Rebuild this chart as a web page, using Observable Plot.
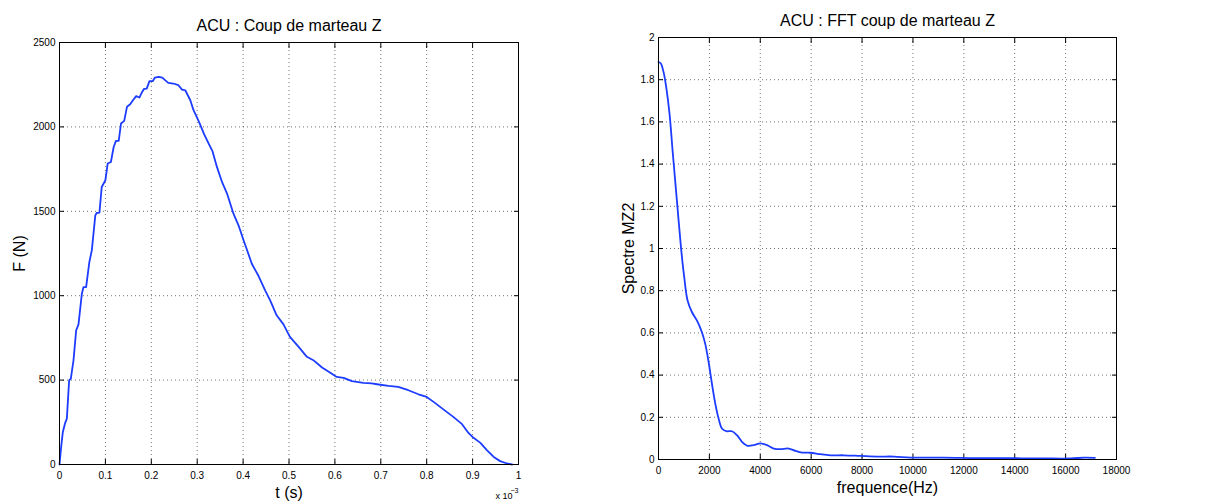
<!DOCTYPE html>
<html><head><meta charset="utf-8">
<script src="https://cdn.jsdelivr.net/npm/d3@7"></script>
<script src="https://cdn.jsdelivr.net/npm/@observablehq/plot@0.6"></script>
<style>
body{margin:0;background:#fff;}
#wrap{display:flex;width:1222px;height:501px;}
</style></head><body><div id="wrap"></div>
<script>
// Left chart: force vs time (time in units of 1e-3 s)
const forceTime = [0, 0.0036, 0.0073, 0.0124, 0.016, 0.021, 0.0247, 0.0305, 0.0363, 0.0414, 0.0487, 0.0523, 0.058, 0.065, 0.0705, 0.078, 0.081, 0.087, 0.092, 0.1, 0.105, 0.112, 0.118, 0.123, 0.129, 0.134, 0.141, 0.147, 0.154, 0.160, 0.167, 0.174, 0.179, 0.184, 0.190, 0.196, 0.203, 0.208, 0.216, 0.224, 0.230, 0.237, 0.248, 0.259, 0.267, 0.274, 0.285, 0.292, 0.299, 0.306, 0.315, 0.325, 0.333, 0.343, 0.354, 0.365, 0.379, 0.390, 0.401, 0.408, 0.419, 0.433, 0.448, 0.459, 0.473, 0.488, 0.502, 0.521, 0.539, 0.553, 0.572, 0.590, 0.604, 0.619, 0.637, 0.662, 0.680, 0.695, 0.717, 0.738, 0.760, 0.782, 0.800, 0.815, 0.837, 0.858, 0.877, 0.891, 0.902, 0.917, 0.931, 0.946, 0.960, 0.975, 0.986];
const forceValues = [0, 104, 193, 247, 272, 499, 509, 617, 795, 830, 1012, 1051, 1051, 1199, 1270, 1476, 1490, 1492, 1644, 1684, 1783, 1792, 1881, 1917, 1917, 2020, 2036, 2119, 2134, 2158, 2182, 2174, 2202, 2225, 2227, 2271, 2271, 2292, 2296, 2292, 2277, 2261, 2257, 2247, 2221, 2217, 2158, 2099, 2059, 2016, 1957, 1901, 1858, 1763, 1674, 1605, 1486, 1417, 1328, 1275, 1189, 1120, 1032, 972, 884, 830, 756, 697, 638, 618, 575, 543, 519, 513, 494, 484, 480, 474, 466, 460, 440, 416, 400, 371, 325, 282, 239, 187, 158, 128, 85, 45, 20, 6, 0];
const timeTicks = [0, 0.1, 0.2, 0.3, 0.4, 0.5, 0.6, 0.7, 0.8, 0.9, 1];
const forceTicks = [0, 500, 1000, 1500, 2000, 2500];

// Right chart: spectrum vs frequency
const freqHz = [0, 92, 197, 302, 433, 564, 722, 892, 1010, 1142, 1312, 1509, 1706, 1837, 1969, 2100, 2231, 2362, 2493, 2664, 2887, 3084, 3281, 3504, 3740, 4003, 4265, 4528, 4790, 5118, 5381, 5643, 5971, 6365, 6759, 7283, 7940, 8596, 9252, 9908, 11220, 12532, 13845, 15157, 16207, 16732, 17152];
const spectreValues = [1.884, 1.877, 1.837, 1.766, 1.639, 1.449, 1.228, 0.995, 0.865, 0.754, 0.699, 0.659, 0.603, 0.548, 0.462, 0.359, 0.265, 0.194, 0.147, 0.134, 0.134, 0.115, 0.084, 0.065, 0.068, 0.076, 0.068, 0.052, 0.049, 0.052, 0.041, 0.033, 0.032, 0.025, 0.020, 0.020, 0.017, 0.014, 0.014, 0.009, 0.009, 0.006, 0.006, 0.005, 0.005, 0.009, 0.008];
const freqTicks = [0, 2000, 4000, 6000, 8000, 10000, 12000, 14000, 16000, 18000];
const spectreTicks = [0, 0.2, 0.4, 0.6, 0.8, 1, 1.2, 1.4, 1.6, 1.8, 2];

const FONT = "'Liberation Sans', Arial, Helvetica, sans-serif";
const BLUE = "#1c3cff";

function panel(o) {
  const data = o.xs.map((x, i) => ({x, y: o.ys[i]}));
  const fmt = d => String(d);
  const grid = {stroke: "#000", strokeOpacity: 0.55, strokeDasharray: "1,3", strokeWidth: 1};
  const marks = [
    Plot.gridX(o.xTicks, grid),
    Plot.gridY(o.yTicks, grid),
    Plot.axisX(o.xTicks, {anchor: "bottom", tickSize: -5, tickPadding: 12, tickFormat: fmt, label: null, fontSize: 10}),
    Plot.axisX(o.xTicks, {anchor: "top", tickSize: -5, tickFormat: () => "", label: null}),
    Plot.axisY(o.yTicks, {anchor: "left", tickSize: -5, tickPadding: 9, tickFormat: fmt, label: null, fontSize: 10}),
    Plot.axisY(o.yTicks, {anchor: "right", tickSize: -5, tickFormat: () => "", label: null}),
    Plot.line(data, {x: "x", y: "y", stroke: BLUE, strokeWidth: 1.8, curve: o.curve}),
    Plot.frame({stroke: "#000", strokeWidth: 1}),
    Plot.text([o.title], {frameAnchor: "top", textAnchor: "middle", lineAnchor: "middle", dy: -17, fontSize: 16}),
    Plot.text([o.xLabel], {frameAnchor: "bottom", textAnchor: "middle", lineAnchor: "middle", dy: 28, fontSize: 16}),
    Plot.text([o.yLabel], {frameAnchor: "left", textAnchor: "middle", lineAnchor: "middle", rotate: -90, dx: o.yLabelDx, fontSize: 16})
  ];
  if (o.extra) marks.push(...o.extra);
  return Plot.plot({
    width: 611, height: 501,
    marginLeft: o.ml, marginRight: o.mr, marginTop: o.mt, marginBottom: o.mb,
    x: {domain: o.xDomain}, y: {domain: o.yDomain},
    style: {fontFamily: FONT, fontSize: "10px", background: "white", overflow: "visible", color: "#000"},
    marks
  });
}

const left = panel({
  xs: forceTime, ys: forceValues, xTicks: timeTicks, yTicks: forceTicks,
  xDomain: [0, 1], yDomain: [0, 2500],
  ml: 59, mr: 93, mt: 42, mb: 37,
  title: "ACU : Coup de marteau Z", xLabel: "t (s)", yLabel: "F (N)", yLabelDx: -40,
  curve: "linear",
  extra: [
    Plot.text(["x 10"], {frameAnchor: "bottom-right", textAnchor: "end", lineAnchor: "middle", dx: -6, dy: 32, fontSize: 9}),
    Plot.text(["\u22123"], {frameAnchor: "bottom-right", textAnchor: "end", lineAnchor: "middle", dx: 0, dy: 26, fontSize: 7})
  ]
});

const right = panel({
  xs: freqHz, ys: spectreValues, xTicks: freqTicks, yTicks: spectreTicks,
  xDomain: [0, 18000], yDomain: [0, 2],
  ml: 47, mr: 106, mt: 37, mb: 42,
  title: "ACU : FFT coup de marteau Z", xLabel: "frequence(Hz)", yLabel: "Spectre MZ2", yLabelDx: -30,
  curve: "catmull-rom"
});

document.getElementById("wrap").append(left, right);
</script>
</body></html>
